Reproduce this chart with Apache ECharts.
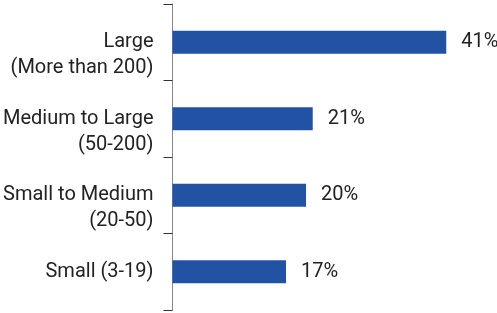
<!DOCTYPE html>
<html>
<head>
<meta charset="utf-8">
<script src="https://cdn.jsdelivr.net/npm/echarts@6/dist/echarts.min.js"></script>
<style>
  html, body { margin: 0; padding: 0; background: #fff; }
  #chart { width: 497px; height: 313px; }
</style>
</head>
<body>
<div id="chart"></div>
<script>
  const categories = [
    'Large\n(More than 200)',
    'Medium to Large\n(50-200)',
    'Small to Medium\n(20-50)',
    'Small (3-19)'
  ];
  const shares = [41, 21, 20, 17];

  const font = 'Roboto';
  const chart = echarts.init(document.getElementById('chart'), null, { renderer: 'canvas' });

  chart.setOption({
    animation: false,
    grid: { left: 170, right: 0, top: 4, bottom: 3, containLabel: false },
    xAxis: {
      type: 'value',
      min: 0,
      max: 48.6,
      show: false
    },
    yAxis: {
      type: 'category',
      data: categories,
      inverse: true,
      axisLine: { show: true, lineStyle: { color: '#888', width: 1 } },
      axisTick: { show: true, length: 9, lineStyle: { color: '#333', width: 1 } },
      axisLabel: {
        interval: 0,
        hideOverlap: false,
        margin: 19,
        color: '#222',
        fontFamily: font,
        fontSize: 20,
        lineHeight: 26,
        align: 'right',
        // keep the first line level with the bar
        formatter: (value) => (value.includes('\n') ? '\n' + value : value)
      }
    },
    series: [{
      type: 'bar',
      data: shares,
      barWidth: 23,
      itemStyle: { color: '#2152a3' },
      label: {
        show: true,
        position: 'right',
        distance: 15,
        color: '#222',
        fontFamily: font,
        fontSize: 20,
        formatter: (p) => p.value + '%'
      }
    }]
  });
</script>
</body>
</html>
